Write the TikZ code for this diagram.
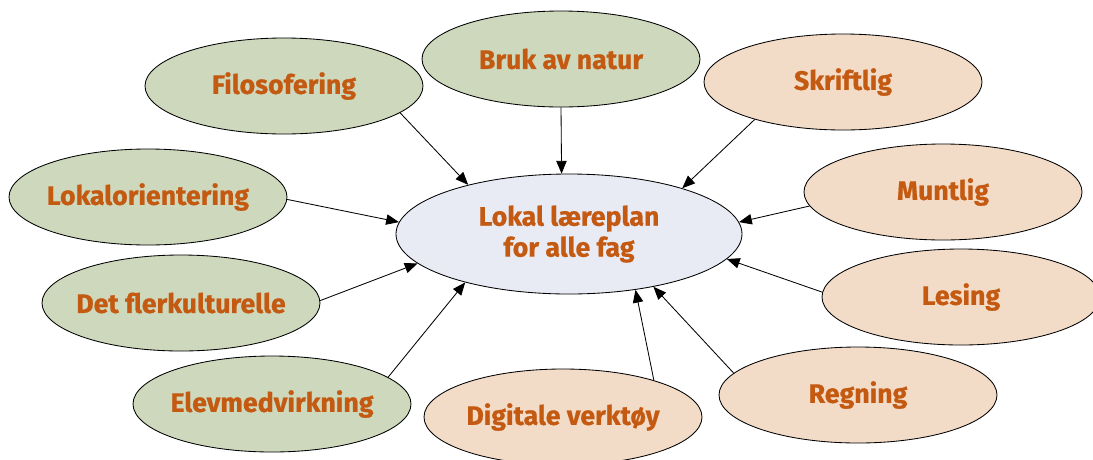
\documentclass[tikz,border=0pt]{standalone}
\usepackage{fontspec}
\usepackage{tikz}
\usepackage{xcolor}
\setmainfont{Fira Sans}[BoldFeatures={FakeBold=0.7}]
\usetikzlibrary{arrows.meta,shapes.geometric}
\definecolor{VertBulle}{RGB}{205,216,188}
\definecolor{RoseBulle}{RGB}{243,220,199}
\definecolor{BleuBulle}{RGB}{232,235,243}
\definecolor{OrangeTexte}{RGB}{196,89,17}
\tikzset{
Bulle/.style={
 ellipse, 
 draw=black, 
 line width=0.6pt, 
 minimum width=6.95cm, 
 minimum height=2.4cm, 
 inner ysep=0pt, 
 inner xsep=-4mm, 
 text=OrangeTexte, 
 font=\fontsize{19}{22}\selectfont\bfseries
 },
BulleVerte/.style={Bulle, fill=VertBulle},
BulleRose/.style={Bulle, fill=RoseBulle},
BulleCentre/.style={
 Bulle, 
 fill=BleuBulle, 
 minimum width=8.65cm, 
 minimum height=3.0cm, 
 inner xsep=0pt, 
 align=center
 },
Fleche/.style={
 draw=black, 
 line width=0.6pt, 
 -{Triangle[length=0.32cm,width=0.26cm]}
 }
}
\begin{document}
\begin{tikzpicture}
\useasboundingbox (0,0) rectangle (27.325,-11.475);
\clip (0,0) rectangle (27.325,-11.475);
\node[BulleCentre] (plan) at (14.225,-5.85) {Lokal læreplan\\for alle fag};
\node[BulleVerte] (filo) at (7.1,-2.15) {Filosofering};
\node[BulleVerte] (bruk) at (14.025,-1.475) {Bruk av natur};
\node[BulleRose] (skrift) at (21.075,-2.05) {Skriftlig};
\node[BulleVerte] (lokal) at (3.7,-4.925) {Lokalorientering};
\node[BulleRose] (munt) at (23.575,-4.8) {Muntlig};
\node[BulleVerte] (flerk) at (4.525,-7.575) {Det flerkulturelle};
\node[BulleRose] (lesing) at (24.025,-7.425) {Lesing};
\node[BulleVerte] (elev) at (6.8,-10.1) {Elevmedvirkning};
\node[BulleRose] (digi) at (14.075,-10.425) {Digitale verktøy};
\node[BulleRose] (regn) at (21.45,-9.875) {Regning};
\draw[Fleche] (filo.-13) -- (plan.154.6);
\draw[Fleche] (bruk.-90) -- (plan.97.4);
\draw[Fleche] (skrift.-157.8) -- (plan.22.8);
\draw[Fleche] (lokal.-1.2) -- (plan.176);
\draw[Fleche] (munt.-174) -- (plan.4);
\draw[Fleche] (flerk.1) -- (plan.-169.2);
\draw[Fleche] (lesing.178.8) -- (plan.-9.7);
\draw[Fleche] (elev.13.6) -- (plan.-155);
\draw[Fleche] (digi.22) -- (plan.-40.9);
\draw[Fleche] (regn.170.6) -- (plan.-32.5);
\end{tikzpicture}
\end{document}
